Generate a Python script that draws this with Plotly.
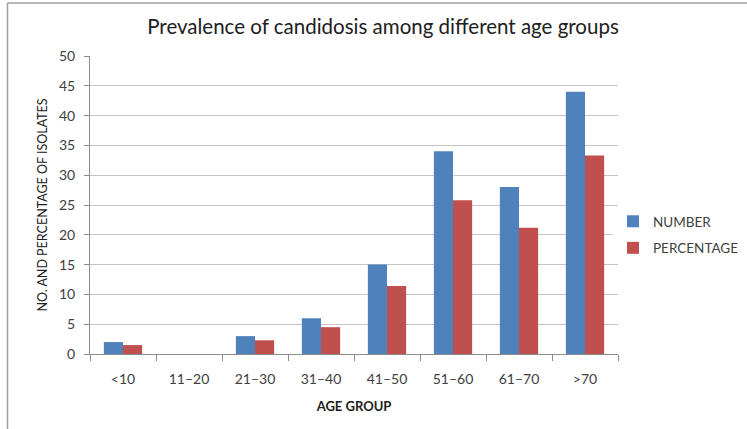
import plotly.graph_objects as go

# Age groups and the two series shown for each
age_groups = ["<10", "11–20", "21–30", "31–40", "41–50", "51–60", "61–70", ">70"]
number = [2, 0, 3, 6, 15, 34, 28, 44]
percentage = [1.5, 0, 2.3, 4.5, 11.4, 25.8, 21.2, 33.3]

FONT = "Lato"
TEXT = "#404040"
AXIS = "#8c8c8c"
GRID = "#c6c6c6"

fig = go.Figure()
fig.add_trace(go.Bar(
    x=age_groups, y=number, name="NUMBER", legendgroup="a",
    marker=dict(color="#4F81BD", line=dict(width=0)),
))
fig.add_trace(go.Bar(
    x=age_groups, y=percentage, name="PERCENTAGE", legendgroup="b",
    marker=dict(color="#C0504D", line=dict(width=0)),
))

# plot area: x 90..618 px, y 56..354 px
L, R, T, B = 90, 129, 56, 75
W, H = 747 - L - R, 429 - T - B

def px(x):
    return (x - L) / W

def py(y):
    return (429 - B - y) / H

fig.update_layout(
    width=747, height=429,
    margin=dict(l=L, r=R, t=T, b=B, autoexpand=False),
    paper_bgcolor="white", plot_bgcolor="white",
    font=dict(family=FONT, color=TEXT, size=14),
    barmode="group", bargap=0.42, bargroupgap=0,
    title=dict(
        text="Prevalence of candidosis among different age groups",
        x=px(383), xref="paper", xanchor="center",
        y=1 - 27 / 429, yanchor="middle",
        font=dict(family=FONT, size=20.5, color="#202020"),
    ),
    xaxis=dict(
        type="category", tickson="boundaries",
        ticks="outside", ticklen=6, tickcolor=AXIS,
        showline=True, linecolor=AXIS, linewidth=1,
        showgrid=False, tickfont=dict(size=14, color=TEXT),
        ticklabelstandoff=12,
        title=dict(text="<b>AGE GROUP</b>", font=dict(size=13, color="#202020"), standoff=16),
    ),
    yaxis=dict(
        range=[0, 50], dtick=5,
        ticks="outside", ticklen=5, tickcolor=AXIS,
        showline=True, linecolor=AXIS, linewidth=1,
        showgrid=True, gridcolor=GRID, gridwidth=1, zeroline=False,
        tickfont=dict(size=14, color=TEXT),
        ticklabelstandoff=6,
        title=dict(text="NO. AND PERCENTAGE OF ISOLATES", font=dict(size=12.5, color="#202020"), standoff=8),
    ),
    legend=dict(
        x=px(613), xanchor="left", y=py(235), yanchor="middle",
        font=dict(size=13.5, color=TEXT), tracegroupgap=6,
        itemwidth=30,
    ),
    shapes=[
        dict(type="line", xref="paper", yref="paper",
             x0=px(7.5), x1=px(7.5), y0=py(429), y1=py(3),
             line=dict(color="#a0a0a0", width=1.5)),
        dict(type="line", xref="paper", yref="paper",
             x0=px(7.5), x1=px(747), y0=py(3), y1=py(3),
             line=dict(color="#a0a0a0", width=1.5)),
    ],
)

fig.write_html("out.html")
